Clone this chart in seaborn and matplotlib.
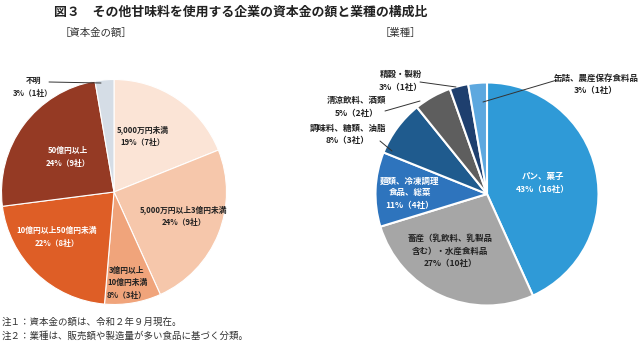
import matplotlib
matplotlib.use("Agg")
import matplotlib.pyplot as plt
import seaborn as sns

sns.set_theme(style="white")
plt.rcParams['font.family'] = ['Noto Sans CJK JP', 'DejaVu Sans']

# ---- data ----
cap_labels = ["5,000万円未満\n19%（7社）", "5,000万円以上3億円未満\n24%（9社）",
              "3億円以上\n10億円未満\n8%（3社）", "10億円以上50億円未満\n22%（8社）",
              "50億円以上\n24%（9社）", "不明\n3%（1社）"]
cap_counts = [7, 9, 3, 8, 9, 1]
cap_colors = ["#FBE4D6", "#F6C7AB", "#F0A47B", "#DE5E26", "#953A24", "#D5DDE6"]

ind_labels = ["パン、菓子\n43%（16社）", "畜産（乳飲料、乳製品\n含む）・水産食料品\n27%（10社）",
              "麺類、冷凍調理\n食品、総菜\n11%（4社）", "調味料、糖類、油脂\n8%（3社）",
              "清涼飲料、酒類\n5%（2社）", "精穀・製粉\n3%（1社）",
              "缶詰、農産保存食料品\n3%（1社）"]
ind_counts = [16, 10, 4, 3, 2, 1, 1]
ind_colors = ["#2F9AD7", "#A6A6A6", "#2E74BD", "#1F5B8E", "#5E5E5E", "#1E3F6E", "#5DA8DF"]

W, H = 640, 343
fig = plt.figure(figsize=(W / 100, H / 100), dpi=100)


def add_ax(cx, cy, r):
    return fig.add_axes([(cx - r) / W, 1 - (cy + r) / H, 2 * r / W, 2 * r / H])


def px(ax, cx, cy, r, x, y):
    return ((x - cx) / r, (cy - y) / r)


# ---- left pie ----
lcx, lcy, lr = 114, 192, 112.5
axL = add_ax(lcx, lcy, lr)
axL.pie(cap_counts, colors=cap_colors, startangle=90, counterclock=False,
        wedgeprops=dict(edgecolor="white", linewidth=0.8))
axL.set_xlim(-1, 1); axL.set_ylim(-1, 1); axL.set_aspect("equal"); axL.axis("off")

left_pos = [(143, 136, "#222222"), (184, 216, "#222222"), (127, 283, "#222222"),
            (57, 237, "white"), (68, 157, "white")]
for (x, y, c), lab in zip(left_pos, cap_labels[:5]):
    axL.text(*px(axL, lcx, lcy, lr, x, y), lab, ha="center", va="center",
             fontsize=5.6, color=c, fontweight="bold", linespacing=1.45, clip_on=False)
axL.text(*px(axL, lcx, lcy, lr, 33, 87), cap_labels[5], ha="center", va="center",
         fontsize=5.6, color="#222222", fontweight="bold", linespacing=1.45, clip_on=False)
axL.plot(*zip(px(axL, lcx, lcy, lr, 49, 82), px(axL, lcx, lcy, lr, 101, 83)),
         color="#333333", lw=0.7, clip_on=False)

# ---- right pie ----
rcx, rcy, rr = 487, 194, 111.5
axR = add_ax(rcx, rcy, rr)
axR.pie(ind_counts, colors=ind_colors, startangle=90, counterclock=False,
        wedgeprops=dict(edgecolor="white", linewidth=1.5))
axR.set_xlim(-1, 1); axR.set_ylim(-1, 1); axR.set_aspect("equal"); axR.axis("off")

right_in = [(543, 183, "white"), (450, 251, "#222222"), (410, 193, "white")]
for (x, y, c), lab in zip(right_in, ind_labels[:3]):
    axR.text(*px(axR, rcx, rcy, rr, x, y), lab, ha="center", va="center",
             fontsize=6.1, color=c, fontweight="bold", linespacing=1.45, clip_on=False)

right_out = [(348, 134), (357, 107), (401, 81), (596, 84)]
for (x, y), lab in zip(right_out, ind_labels[3:]):
    axR.text(*px(axR, rcx, rcy, rr, x, y), lab, ha="center", va="center",
             fontsize=6.1, color="#222222", fontweight="bold", linespacing=1.45, clip_on=False)

leaders = [((380, 141), (392, 151)), ((385, 111), (420, 101)),
           ((420, 82), (456, 87)), ((557, 80), (483, 102))]
for a, b in leaders:
    axR.plot(*zip(px(axR, rcx, rcy, rr, *a), px(axR, rcx, rcy, rr, *b)),
             color="#333333", lw=0.7, clip_on=False)

# ---- titles & notes ----
fig.text(54 / W, 1 - 12 / H, "図３　その他甘味料を使用する企業の資本金の額と業種の構成比",
         ha="left", va="center", fontsize=9.3, color="#222222", fontweight="bold")
fig.text(60 / W, 1 - 33 / H, "［資本金の額］", ha="left", va="center", fontsize=7.5, color="#333333")
fig.text(380 / W, 1 - 33 / H, "［業種］", ha="left", va="center", fontsize=7.5, color="#333333")
fig.text(2 / W, 1 - 322 / H, "注１：資本金の額は、令和２年９月現在。", ha="left", va="center",
         fontsize=6.8, color="#333333")
fig.text(2 / W, 1 - 336 / H, "注２：業種は、販売額や製造量が多い食品に基づく分類。", ha="left", va="center",
         fontsize=6.8, color="#333333")

fig.savefig("out.png", dpi=100, facecolor="white")
